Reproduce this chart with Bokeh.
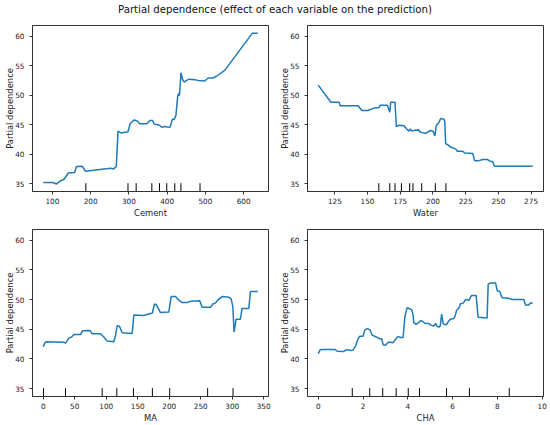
from bokeh.plotting import figure
from bokeh.layouts import column, gridplot
from bokeh.models import Div, FixedTicker, Range1d
from bokeh.embed import file_html
from bokeh.resources import INLINE

TITLE = "Partial dependence (effect of each variable on the prediction)"
Y_LABEL = "Partial dependence"
Y_TICKS = [35, 40, 45, 50, 55, 60]
Y_LIMITS = [33.67, 61.8]

# ---- Cement ----
cement_x = [76, 100, 111, 121.7, 130, 141.6, 158, 163, 178, 186.7, 251.6, 260, 267, 271.6, 279,
            297.6, 303.6, 314, 322.7, 328, 347, 355, 362, 366, 380, 386, 394.6, 399, 407.6,
            413.7, 418.9, 423, 425, 427.6, 430, 432, 434.5, 436, 440.6, 444.9, 451, 457,
            472.6, 481, 498.6, 507, 520, 529, 550.6, 623, 637]
cement_y = [35.2, 35.2, 34.95, 35.5, 35.7, 36.8, 36.9, 37.9, 37.95, 37.1, 37.6, 37.5, 37.9, 43.9, 43.6,
            43.8, 45.2, 45.8, 45.6, 45.15, 45.15, 45.7, 45.7, 45.1, 44.9, 44.55, 44.7, 44.6, 44.55,
            45.9, 45.9, 46.6, 48.0, 49.8, 50.3, 49.9, 52.0, 53.8, 52.6, 52.2, 52.5, 52.7,
            52.6, 52.5, 52.4, 52.9, 52.9, 53.2, 54.2, 60.5, 60.5]
cement_deciles = [187.4, 297.6, 319, 360, 380, 399, 420, 436, 486]
cement_ticks = [100, 200, 300, 400, 500, 600]

# ---- Water ----
water_x = [112.3, 122, 128.3, 129, 142.8, 145.6, 150, 155, 158.8, 159.6, 165.2, 167, 167.7, 171,
           172, 174, 177.9, 179.7, 181.7, 182.7, 183.7, 186.8, 188, 188.8, 190, 191.9, 194.4,
           196.4, 198.2, 200, 201.5, 202.5, 204.6, 205.9, 208.4, 209, 209.7, 211.4, 213.5,
           217.3, 218.6, 222.4, 224.4, 230.5, 231.8, 235.1, 238.1, 241.4, 243.9, 245.8, 247, 276.3]
water_y = [51.7, 48.8, 48.8, 48.2, 48.2, 47.4, 47.4, 47.8, 47.9, 48.3, 48.3, 47.1, 48.8, 48.8,
           44.65, 44.9, 44.8, 44.3, 43.9, 44.3, 43.9, 44.1, 44.0, 44.2, 43.8, 43.65, 43.5,
           43.8, 44.0, 43.9, 43.1, 44.8, 45.4, 46.05, 45.9, 45.6, 41.75, 41.6, 41.2,
           40.9, 40.5, 40.5, 40.2, 40.1, 38.9, 38.9, 39.1, 39.1, 38.8, 38.7, 37.95, 37.95]
water_deciles = [158.6, 167, 171, 175.9, 182.2, 184.7, 191.4, 201.8, 209.9]
water_ticks = [125, 150, 175, 200, 225, 250, 275]

# ---- MA ----
ma_x = [0, 2.6, 5.3, 32.8, 35.4, 40.7, 45, 48.7, 59.2, 62.4, 74, 77.7, 91, 96.2, 101.5, 112,
        114.7, 117.4, 121, 125.3, 141.2, 143.8, 159.7, 170.3, 173, 176.6, 179.3, 186.1, 199.4,
        203, 210, 215.3, 220.5, 228.4, 233.7, 248.5, 252.2, 265.5, 269.7, 273.4, 277, 284,
        294.6, 298.3, 301, 303, 306.2, 313, 315.7, 326.3, 329, 340.6]
ma_y = [42.05, 42.7, 42.9, 42.8, 42.65, 43.5, 43.7, 44.1, 44.1, 44.75, 44.8, 44.25, 44.25, 43.7, 43.0, 42.9,
        43.9, 45.6, 45.5, 44.4, 44.3, 47.4, 47.3, 47.65, 47.7, 49.2, 49.2, 47.8, 47.9,
        50.5, 50.5, 49.9, 49.5, 49.5, 49.7, 49.8, 48.7, 48.7, 49.3, 49.4, 49.9, 50.5,
        50.4, 50.1, 48.8, 44.5, 46.7, 46.7, 48.5, 48.5, 51.35, 51.35]
ma_deciles = [0.5, 35.4, 93.6, 116.8, 143.2, 173.3, 200.8, 261, 301.3]
ma_ticks = [0, 50, 100, 150, 200, 250, 300, 350]

# ---- CHA ----
cha_x = [0, 0.09, 0.18, 0.74, 0.85, 1.15, 1.22, 1.37, 1.44, 1.55, 1.67, 1.79, 1.86, 2.0, 2.08,
         2.19, 2.31, 2.41, 2.59, 2.74, 2.83, 2.90, 3.0, 3.13, 3.26, 3.33, 3.42, 3.56, 3.68,
         3.79, 3.87, 3.97, 4.05, 4.17, 4.23, 4.27, 4.35, 4.45, 4.57, 4.67, 4.76, 4.94, 5.06,
         5.16, 5.24, 5.31, 5.39, 5.45, 5.51, 5.58, 5.65, 5.73, 5.83, 5.91, 6.06, 6.13, 6.18,
         6.28, 6.35, 6.47, 6.58, 6.73, 6.85, 7.05, 7.14, 7.54, 7.59, 7.69, 7.92, 7.99, 8.1,
         8.21, 8.51, 8.66, 9.18, 9.26, 9.40, 9.48, 9.58]
cha_y = [40.9, 41.55, 41.6, 41.6, 41.3, 41.25, 41.5, 41.5, 41.4, 41.45, 42.2, 43.5, 43.8, 43.8, 44.9,
         45.1, 44.9, 44.0, 43.7, 43.4, 43.4, 42.4, 42.3, 42.8, 42.8, 42.7, 43.15, 43.8, 43.6,
         43.6, 47.1, 48.65, 48.5, 48.3, 47.5, 46.1, 45.85, 46.0, 46.45, 46.3, 46.0, 45.95, 45.65,
         45.55, 46.0, 45.5, 45.35, 45.6, 47.55, 45.9, 45.8, 45.8, 46.4, 46.7, 46.8, 47.5, 48.2,
         48.55, 49.3, 49.4, 50.0, 49.9, 50.7, 50.7, 47.0, 46.9, 52.6, 52.8, 52.8, 51.5, 51.4,
         50.3, 50.2, 50.0, 50.0, 49.1, 49.1, 49.4, 49.4]
cha_deciles = [1.52, 2.30, 2.88, 3.48, 4.02, 4.52, 5.73, 6.75, 8.53]
cha_ticks = [0, 2, 4, 6, 8, 10]

LINE_COLOR = "#1f7ab9"
FRAME_COLOR = "#333333"
TEXT_COLOR = "#222222"
FONT = "DejaVu Sans"


def make_panel(xs, ys, deciles, xlabel, xticks, width, height, bl, br, bt, bb):
    lo, hi = min(xs), max(xs)
    pad = 0.05 * (hi - lo)
    p = figure(width=width, height=height, output_backend="svg", toolbar_location=None,
               x_range=Range1d(lo - pad, hi + pad), y_range=Range1d(*Y_LIMITS),
               min_border_left=bl, min_border_right=br, min_border_top=bt, min_border_bottom=bb)
    p.line(xs, ys, line_color=LINE_COLOR, line_width=1.5)
    ylo, yhi = Y_LIMITS
    rug_top = ylo + 0.05 * (yhi - ylo)
    p.segment(x0=deciles, y0=[ylo] * len(deciles), x1=deciles, y1=[rug_top] * len(deciles),
              line_color="black", line_width=1)
    p.xaxis.ticker = FixedTicker(ticks=xticks)
    p.yaxis.ticker = FixedTicker(ticks=Y_TICKS)
    p.xaxis.axis_label = xlabel
    p.yaxis.axis_label = Y_LABEL
    p.grid.visible = False
    p.outline_line_color = FRAME_COLOR
    p.outline_line_width = 1
    p.axis.axis_line_color = FRAME_COLOR
    p.axis.major_tick_line_color = FRAME_COLOR
    p.axis.major_tick_out = 3
    p.axis.major_tick_in = 0
    p.axis.minor_tick_out = 0
    p.axis.minor_tick_in = 0
    p.axis.major_label_text_font = FONT
    p.axis.major_label_text_font_size = "7.3px"
    p.axis.major_label_text_color = TEXT_COLOR
    p.axis.axis_label_text_font = FONT
    p.axis.axis_label_text_font_size = "8.4px"
    p.axis.axis_label_text_font_style = "normal"
    p.axis.axis_label_text_color = TEXT_COLOR
    p.xaxis.major_label_standoff = 3
    p.xaxis.axis_label_standoff = 1
    p.yaxis.major_label_standoff = 5
    p.yaxis.axis_label_standoff = -3
    p.background_fill_color = "white"
    p.border_fill_color = "white"
    return p


p1 = make_panel(cement_x, cement_y, cement_deciles, "Cement", cement_ticks, 275, 200, 32, 7, 5, 28)
p2 = make_panel(water_x, water_y, water_deciles, "Water", water_ticks, 275, 200, 32, 7, 5, 28)
p3 = make_panel(ma_x, ma_y, ma_deciles, "MA", ma_ticks, 275, 205, 32, 7, 9, 28)
p4 = make_panel(cha_x, cha_y, cha_deciles, "CHA", cha_ticks, 275, 205, 32, 7, 9, 28)

title = Div(text=TITLE, width=550, height=20, margin=0,
            styles={"font-family": FONT, "font-size": "10.2px", "text-align": "center",
                    "line-height": "20px", "color": "#111111"})

grid = gridplot([[p1, p2], [p3, p4]], toolbar_location=None)
layout = column(title, grid)

open("out.html", "w").write(file_html(layout, INLINE))
